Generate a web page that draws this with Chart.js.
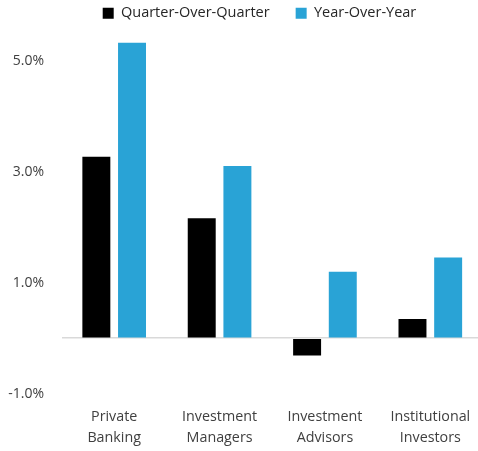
<!DOCTYPE html>
<html>
<head>
<meta charset="utf-8">
<script src="https://cdn.jsdelivr.net/npm/chart.js@4"></script>
<style>
  html, body { margin: 0; padding: 0; background: #fff; overflow: hidden; }
  #wrap { position: relative; width: 515px; height: 451px; }
</style>
</head>
<body>
<div id="wrap"><canvas id="chart"></canvas></div>
<script>
'use strict';

const categories = [
  ['Private', 'Banking'],
  ['Investment', 'Managers'],
  ['Investment', 'Advisors'],
  ['Institutional', 'Investors'],
];
const qoqValues = [3.28, 2.17, -0.31, 0.35];
const yoyValues = [5.34, 3.11, 1.20, 1.46];
const yTicks = [-1, 0, 1, 3, 5];

const FONT = "'Open Sans', 'Noto Sans', sans-serif";

// legend in the original sits a little right of the canvas centre
const shiftLegend = {
  id: 'shiftLegend',
  afterLayout(chart) {
    chart.legend.left += 18;
    chart.legend.right += 18;
  },
};

new Chart(document.getElementById('chart'), {
  type: 'bar',
  data: {
    labels: categories,
    datasets: [
      { label: 'Quarter-Over-Quarter', data: qoqValues, backgroundColor: '#000000' },
      { label: 'Year-Over-Year', data: yoyValues, backgroundColor: '#29a3d6' },
    ],
  },
  plugins: [shiftLegend],
  options: {
    responsive: true,
    maintainAspectRatio: false,
    animation: false,
    categoryPercentage: 0.677,
    barPercentage: 0.784,
    layout: { padding: { left: 0, right: 32, top: -20, bottom: 0 } },
    plugins: {
      tooltip: { enabled: false },
      legend: {
        position: 'top',
        labels: {
          color: '#262626',
          boxWidth: 11,
          boxHeight: 11,
          padding: 26,
          font: { family: FONT, size: 14.5 },
        },
      },
    },
    scales: {
      x: {
        afterFit: (s) => { s.height = 57.4; },
        grid: { display: false, drawTicks: false },
        border: { display: false },
        ticks: {
          color: '#404040',
          padding: 13,
          font: { family: FONT, size: 14.3, lineHeight: 1.47 },
        },
      },
      y: {
        min: -1,
        max: 5.56,
        afterFit: (s) => { s.width = 61.5; },
        afterBuildTicks: (axis) => { axis.ticks = yTicks.map((v) => ({ value: v })); },
        border: { display: false },
        grid: {
          drawTicks: false,
          color: (c) => (c.tick && c.tick.value === 0 ? '#d9d9d9' : 'rgba(0,0,0,0)'),
          lineWidth: 1.5,
        },
        ticks: {
          color: '#404040',
          padding: 17.5,
          font: { family: FONT, size: 14 },
          callback: (v) => (v === 0 ? '' : v.toFixed(1) + '%'),
        },
      },
    },
  },
});
</script>
</body>
</html>
